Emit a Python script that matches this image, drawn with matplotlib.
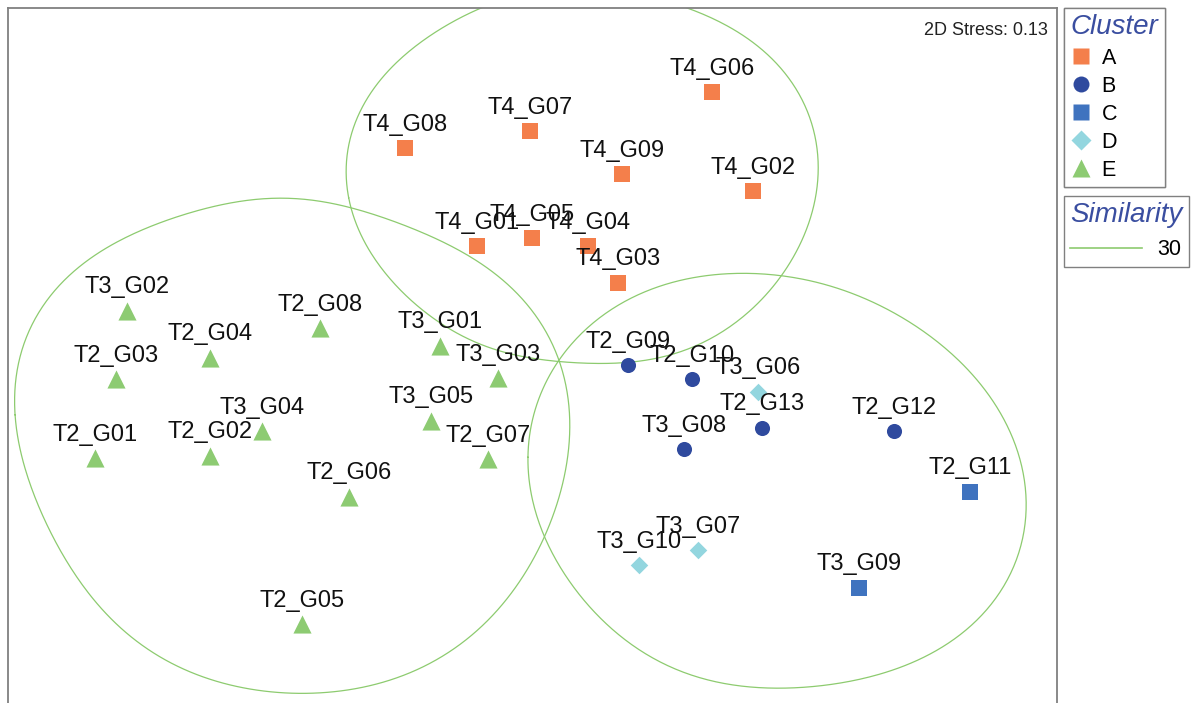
# nMDS ordination with cluster groups and similarity contours
import numpy as np
import matplotlib
matplotlib.use('Agg')
import matplotlib.pyplot as plt
from matplotlib.lines import Line2D

plt.rcParams['font.family'] = ['Liberation Sans', 'DejaVu Sans']

# Sample names and MDS coordinates per cluster
a_names = ['T4_G06', 'T4_G07', 'T4_G08', 'T4_G09', 'T4_G02', 'T4_G01', 'T4_G05', 'T4_G04', 'T4_G03']
a_x = [0.91, 0.0, -0.625, 0.46, 1.115, -0.265, 0.01, 0.29, 0.44]
a_y = [1.29, 1.095, 1.01, 0.878, 0.793, 0.52, 0.558, 0.518, 0.337]

b_names = ['T2_G09', 'T2_G10', 'T2_G13', 'T3_G08', 'T2_G12']
b_x = [0.49, 0.81, 1.16, 0.77, 1.82]
b_y = [-0.077, -0.147, -0.389, -0.495, -0.407]

c_names = ['T2_G11', 'T3_G09']
c_x = [2.20, 1.645]
c_y = [-0.709, -1.189]

d_names = ['T3_G06', 'T3_G07', 'T3_G10']
d_x = [1.14, 0.84, 0.545]
d_y = [-0.209, -1.0, -1.075]

e_names = ['T3_G02', 'T2_G08', 'T2_G04', 'T2_G03', 'T3_G01', 'T3_G03', 'T3_G05',
           'T3_G04', 'T2_G01', 'T2_G02', 'T2_G07', 'T2_G06', 'T2_G05']
e_x = [-2.015, -1.05, -1.60, -2.07, -0.45, -0.16, -0.495,
       -1.341, -2.174, -1.598, -0.21, -0.905, -1.139]
e_y = [0.197, 0.109, -0.039, -0.147, 0.022, -0.142, -0.354,
       -0.407, -0.542, -0.529, -0.547, -0.734, -1.37]

# Similarity 30 contours (points traced around each group)
left_cx = [-2.578, -2.535, -2.365, -2.15, -1.815, -1.6, -1.315, -1.115, -0.9, -0.65, -0.335, -0.15,
           0.135, 0.205, 0.165, 0.065, -0.15, -0.355, -0.735, -1.195, -1.695, -1.98, -2.265, -2.46, -2.535]
left_cy = [-0.25, 0.035, 0.315, 0.475, 0.65, 0.725, 0.755, 0.745, 0.71, 0.635, 0.5, 0.35,
           -0.05, -0.415, -0.715, -0.935, -1.25, -1.5, -1.665, -1.705, -1.615, -1.45, -1.135, -0.765, -0.55]

top_cx = [-0.92, -0.9, -0.815, -0.7, -0.5, -0.335, 0.0, 0.335, 0.665, 1.0, 1.25, 1.4,
          1.445, 1.365, 1.2, 0.81, 0.275, -0.25, -0.66, -0.835]
top_cy = [0.865, 0.715, 0.515, 0.36, 0.175, 0.065, -0.04, -0.065, -0.035, 0.115, 0.365, 0.665,
          0.95, 1.25, 1.455, 1.705, 1.81, 1.705, 1.455, 1.2]

right_cx = [0.135, 0.335, 0.55, 0.75, 1.0, 1.3, 1.62, 1.95, 2.14, 2.35, 2.475, 2.395,
            2.14, 1.62, 1.175, 0.76, 0.415, 0.275, 0.065, 0.01, -0.01, 0.05]
right_cy = [-0.05, 0.15, 0.275, 0.35, 0.385, 0.36, 0.285, 0.1, -0.05, -0.3, -0.75, -1.135,
            -1.435, -1.65, -1.69, -1.61, -1.4, -1.25, -0.935, -0.715, -0.485, -0.25]

stress = 0.13
similarity = 30

# colours
col_a = '#f47f4b'
col_b = '#2f4a9e'
col_c = '#3f73bf'
col_d = '#93d6df'
col_e = '#8dcb72'
col_line = '#8dcb6f'
title_col = '#3a4ea0'


def smooth_closed(xs, ys, order=5, n=500):
    # fit radius(angle) around the centre with a short fourier series
    xs, ys = np.asarray(xs), np.asarray(ys)
    cx, cy = xs.mean(), ys.mean()
    th = np.arctan2(ys - cy, xs - cx)
    r = np.hypot(xs - cx, ys - cy)

    def basis(t):
        cols = [np.ones_like(t)]
        for k in range(1, order + 1):
            cols += [np.cos(k * t), np.sin(k * t)]
        return np.column_stack(cols)

    coef, *_ = np.linalg.lstsq(basis(th), r, rcond=None)
    t = np.linspace(-np.pi, np.pi, n)
    rr = basis(t) @ coef
    return cx + rr * np.cos(t), cy + rr * np.sin(t)


W, H = 1194, 703
fig = plt.figure(figsize=(W / 100, H / 100), dpi=100)
ax = fig.add_axes([8 / W, 0.0, (1057 - 8) / W, 1 - 8 / H])
ax.set_xlim(-2.61, 2.635)
ax.set_ylim(-1.765, 1.71)

for cx, cy in [(left_cx, left_cy), (top_cx, top_cy), (right_cx, right_cy)]:
    sx, sy = smooth_closed(cx, cy)
    ax.plot(sx, sy, color=col_line, lw=0.9, zorder=1)

groups = [
    (a_names, a_x, a_y, col_a, 's', 118),
    (b_names, b_x, b_y, col_b, 'o', 118),
    (c_names, c_x, c_y, col_c, 's', 118),
    (d_names, d_x, d_y, col_d, 'D', 80),
    (e_names, e_x, e_y, col_e, '^', 170),
]
for names, xs, ys, col, mk, sz in groups:
    ax.scatter(xs, ys, s=sz, marker=mk, color=col, linewidths=0, zorder=3)
    for nm, x, y in zip(names, xs, ys):
        ax.annotate(nm, (x, y), xytext=(0, 12.5), textcoords='offset points',
                    ha='center', va='baseline', fontsize=17, color='#111111', zorder=4)

ax.text(0.9915, 0.968, '2D Stress: %.2f' % stress, transform=ax.transAxes,
        ha='right', va='center', fontsize=13, color='#222222')

ax.set_xticks([])
ax.set_yticks([])
for side in ['left', 'top', 'right']:
    ax.spines[side].set_color('#808080')
    ax.spines[side].set_linewidth(1.3)
ax.spines['bottom'].set_visible(False)

# cluster legend
handles = [
    Line2D([], [], ls='', marker='s', ms=11.5, mfc=col_a, mec='none'),
    Line2D([], [], ls='', marker='o', ms=11.5, mfc=col_b, mec='none'),
    Line2D([], [], ls='', marker='s', ms=11.5, mfc=col_c, mec='none'),
    Line2D([], [], ls='', marker='D', ms=10, mfc=col_d, mec='none'),
    Line2D([], [], ls='', marker='^', ms=13.5, mfc=col_e, mec='none'),
]
leg1 = fig.legend(handles, ['A', 'B', 'C', 'D', 'E'], loc='upper left',
                  bbox_to_anchor=(1064 / W, 1 - 8 / H), borderaxespad=0,
                  fontsize=15.5, title='Cluster', title_fontsize=20, alignment='left',
                  fancybox=False, edgecolor='#808080', framealpha=1,
                  handlelength=1.0, handletextpad=0.45, labelspacing=0.33,
                  borderpad=0.3)
leg1.get_title().set_color(title_col)
leg1.get_title().set_style('italic')
leg1.get_frame().set_linewidth(1.0)

leg2 = fig.legend([Line2D([], [], color=col_line, lw=1.2)], [str(similarity)], loc='upper left',
                  bbox_to_anchor=(1064 / W, 1 - 196 / H), borderaxespad=0,
                  fontsize=15.5, title='Similarity', title_fontsize=20, alignment='left',
                  fancybox=False, edgecolor='#808080', framealpha=1,
                  handlelength=3.3, handletextpad=0.75, borderpad=0.3)
leg2.get_title().set_color(title_col)
leg2.get_title().set_style('italic')
leg2.get_frame().set_linewidth(1.0)
fig.add_artist(leg1)

fig.savefig('out.png', dpi=100)
